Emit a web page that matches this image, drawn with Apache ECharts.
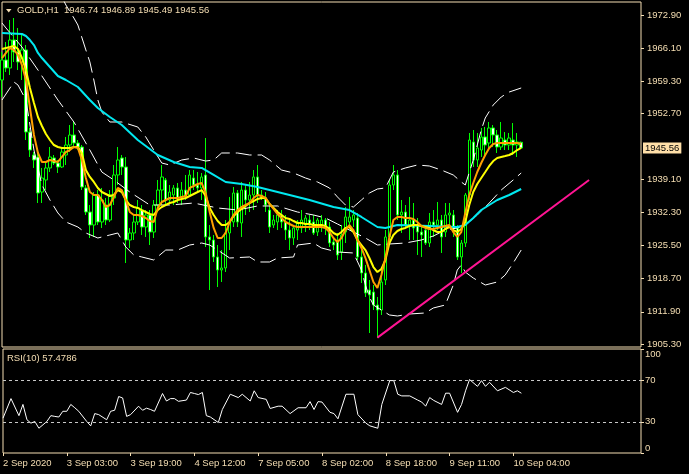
<!DOCTYPE html>
<html><head><meta charset="utf-8">
<script src="https://cdn.jsdelivr.net/npm/echarts@6/dist/echarts.min.js"></script>
<style>html,body{margin:0;padding:0;background:#000;}#c{width:689px;height:474px;}</style>
</head><body><div id="c"></div>
<script>
// ---- data ----
const opens = [1959.54,1963.65,1962.01,1967.76,1965.29,1963.24,1965.71,1948.85,1944.13,1943.72,
1936.52,1938.99,1941.46,1943.51,1942.48,1941.66,1944.13,1946.18,1948.24,1946.59,
1945.77,1937.35,1932.41,1929.74,1935.91,1930.36,1933.85,1930.77,1935.29,1940.02,
1943.51,1941.66,1926.66,1928.10,1930.36,1932.82,1929.33,1931.80,1928.30,1933.85,
1936.93,1938.99,1934.88,1935.91,1937.35,1935.29,1936.93,1935.91,1939.40,1937.96,
1937.35,1940.02,1927.28,1926.66,1923.17,1920.49,1920.91,1928.10,1930.36,1936.32,
1930.15,1936.93,1934.88,1935.91,1939.61,1935.91,1935.29,1932.82,1929.74,1930.36,
1931.80,1930.36,1928.71,1927.07,1928.71,1929.13,1929.74,1930.77,1930.36,1928.30,
1929.74,1930.77,1929.33,1926.25,1926.25,1924.19,1928.30,1930.36,1930.77,1931.18,
1923.17,1919.88,1916.38,1915.97,1913.30,1912.27,1918.44,1927.28,1937.96,1940.02,
1931.80,1932.41,1929.74,1930.77,1929.74,1928.30,1928.71,1926.04,1930.36,1929.74,
1930.77,1928.30,1931.80,1931.80,1929.13,1923.17,1926.04,1935.91,1946.80,1943.10,
1945.15,1947.83,1946.59,1949.68,1948.24,1945.77,1947.21,1946.18,1947.21,1946.18,
1946.74];
const highs = [1965.29,1967.35,1971.87,1972.28,1970.23,1969.20,1966.73,1949.68,1944.74,1945.57,
1941.46,1942.69,1945.77,1944.13,1943.10,1945.57,1947.83,1950.29,1950.91,1947.21,
1946.18,1937.96,1933.85,1936.52,1936.93,1937.35,1935.29,1936.93,1942.07,1945.77,
1944.13,1943.72,1929.13,1931.80,1934.88,1933.85,1932.82,1932.82,1934.88,1938.99,
1942.07,1939.40,1937.96,1937.96,1938.37,1938.58,1940.02,1941.04,1941.04,1940.63,
1940.43,1947.62,1929.74,1927.69,1925.63,1924.60,1930.77,1935.50,1937.55,1936.93,
1938.58,1937.96,1938.58,1941.04,1942.07,1936.93,1936.52,1934.26,1931.80,1932.82,
1932.82,1931.80,1930.77,1929.74,1930.77,1932.82,1931.80,1931.80,1931.80,1931.18,
1931.80,1931.18,1930.36,1927.07,1928.10,1929.74,1933.44,1935.50,1932.82,1932.21,
1924.60,1921.52,1918.44,1917.41,1914.95,1920.49,1928.71,1938.99,1942.07,1941.04,
1934.88,1933.85,1935.50,1934.26,1931.18,1929.33,1929.74,1932.21,1932.82,1934.47,
1931.80,1934.26,1934.26,1932.82,1929.74,1926.66,1936.32,1948.65,1949.26,1948.65,
1949.68,1949.88,1950.91,1950.29,1949.26,1950.91,1948.85,1948.65,1950.70,1948.65,
1946.89];
const lows = [1956.05,1961.18,1960.57,1963.24,1961.59,1959.54,1947.21,1943.72,1941.46,1934.26,
1934.26,1936.93,1940.63,1942.07,1940.43,1941.46,1942.07,1944.74,1945.77,1945.15,
1936.93,1931.80,1927.07,1927.28,1929.74,1929.13,1929.74,1930.36,1933.85,1937.96,
1940.02,1921.93,1925.02,1926.66,1929.74,1927.69,1927.28,1925.63,1927.07,1932.82,
1933.85,1933.85,1934.26,1933.85,1934.26,1933.85,1934.88,1935.50,1936.93,1936.52,
1934.88,1925.22,1916.38,1922.14,1917.00,1918.03,1920.08,1924.60,1929.33,1929.33,
1927.28,1931.80,1932.41,1932.82,1934.26,1934.88,1932.41,1928.10,1929.13,1928.71,
1929.13,1926.66,1924.60,1925.63,1926.66,1928.10,1928.30,1928.71,1927.69,1927.48,
1928.30,1927.69,1925.22,1924.60,1922.55,1922.55,1926.04,1929.33,1929.33,1922.55,
1917.82,1914.95,1907.55,1912.27,1906.52,1911.25,1917.41,1926.04,1936.93,1930.77,
1928.10,1929.33,1926.66,1926.66,1923.58,1923.17,1925.63,1925.22,1927.28,1928.71,
1923.99,1927.28,1929.13,1927.28,1922.55,1919.88,1925.22,1934.88,1941.66,1941.66,
1943.72,1944.13,1945.15,1945.77,1944.54,1945.15,1945.15,1945.15,1944.13,1943.72,
1945.49];
const closes = [1963.65,1962.01,1967.76,1965.29,1963.24,1965.71,1948.85,1945.15,1943.10,1936.32,
1939.40,1941.46,1943.72,1942.48,1941.66,1944.74,1946.18,1948.24,1946.59,1945.77,
1937.55,1932.41,1929.74,1935.91,1930.36,1934.88,1930.77,1935.91,1940.02,1943.10,
1941.66,1926.66,1928.10,1930.36,1933.24,1929.33,1931.80,1928.30,1933.85,1936.93,
1939.61,1934.88,1936.52,1937.35,1935.29,1936.93,1935.50,1940.02,1937.96,1937.35,
1939.61,1927.28,1926.66,1923.17,1920.49,1920.91,1928.10,1930.36,1936.32,1930.36,
1936.93,1934.88,1935.91,1939.61,1935.91,1935.29,1933.85,1929.33,1930.77,1931.80,
1930.36,1928.71,1927.07,1929.13,1930.36,1930.77,1931.18,1929.74,1928.10,1930.77,
1930.77,1929.13,1926.04,1925.63,1923.58,1927.69,1931.39,1931.39,1931.80,1923.17,
1919.88,1915.77,1915.36,1913.30,1912.27,1918.03,1927.28,1937.96,1940.02,1931.80,
1932.41,1929.74,1930.77,1929.13,1928.30,1927.69,1926.04,1930.36,1929.74,1930.77,
1927.28,1931.80,1932.21,1929.13,1923.17,1926.04,1935.91,1947.21,1943.10,1945.57,
1947.83,1946.18,1949.68,1948.24,1945.77,1947.62,1946.18,1947.62,1946.18,1946.80,
1945.56];
// orange moving average (one value per bar)
const maFast = [1964.06,1965.09,1966.12,1965.71,1964.68,1962.62,1959.54,1953.79,1948.24,1944.54,
1942.69,1942.69,1943.10,1942.89,1942.69,1943.72,1944.74,1945.15,1945.77,1945.57,
1943.10,1939.40,1936.52,1935.91,1935.91,1934.88,1933.44,1933.85,1935.50,1937.35,
1936.93,1934.88,1932.41,1931.80,1931.80,1931.59,1931.18,1930.56,1930.36,1933.24,
1934.47,1934.88,1935.29,1935.29,1935.29,1935.50,1935.70,1937.35,1937.76,1938.17,
1938.37,1936.32,1932.41,1929.13,1927.07,1927.07,1928.10,1930.36,1931.80,1932.82,
1933.44,1933.85,1934.26,1935.29,1935.91,1935.70,1935.29,1934.06,1933.03,1932.00,
1931.18,1930.36,1929.95,1929.54,1929.33,1929.33,1929.33,1929.33,1929.33,1929.33,
1929.33,1929.13,1928.30,1927.07,1926.25,1927.07,1928.71,1929.74,1928.71,1926.66,
1925.02,1922.96,1920.49,1918.03,1916.80,1919.47,1922.96,1927.28,1930.77,1931.39,
1931.39,1931.18,1931.18,1930.98,1930.36,1929.54,1929.13,1928.92,1928.92,1929.13,
1929.33,1929.54,1929.74,1928.30,1927.28,1928.30,1932.21,1935.91,1938.37,1940.63,
1942.48,1944.13,1945.57,1946.39,1946.59,1946.59,1946.59,1946.59,1946.59,1946.59,
1946.39];
// yellow moving average (one value per bar)
const maMid = [1965.91,1966.12,1966.32,1966.53,1965.91,1964.06,1961.59,1957.90,1954.81,1951.94,
1950.09,1948.44,1947.21,1946.18,1945.77,1945.57,1945.57,1945.57,1945.77,1945.77,
1944.54,1941.04,1939.61,1938.58,1937.35,1936.52,1936.11,1935.70,1935.91,1936.93,
1936.52,1934.88,1933.85,1933.44,1933.24,1932.82,1932.41,1932.00,1931.80,1932.82,
1933.44,1933.85,1934.26,1934.47,1934.88,1935.09,1935.29,1935.70,1936.11,1936.52,
1936.93,1935.70,1933.24,1931.80,1930.56,1929.74,1929.74,1930.36,1931.59,1932.41,
1933.03,1933.65,1934.26,1934.67,1935.09,1935.29,1935.29,1934.06,1933.24,1932.41,
1931.80,1931.18,1930.98,1930.56,1930.15,1930.15,1929.95,1929.95,1929.74,1929.74,
1929.74,1929.54,1928.92,1928.10,1927.69,1928.30,1929.13,1929.33,1928.30,1926.66,
1925.63,1924.60,1922.96,1921.11,1920.08,1920.70,1922.55,1926.04,1927.69,1928.51,
1928.92,1929.13,1929.54,1929.74,1929.74,1929.54,1929.33,1929.13,1928.71,1928.30,
1928.30,1928.92,1929.33,1928.71,1928.30,1928.92,1930.36,1933.85,1936.52,1938.17,
1939.40,1940.63,1941.87,1942.89,1943.51,1943.72,1943.92,1944.13,1944.54,1945.15,
1945.57];
// cyan slow moving average, read at [bar, price]
const maSlow = [[0,1969.20],[5,1968.99],[6,1968.58],[7,1967.76],[8,1966.73],[9,1965.09],[10,1964.06],[12,1962.21],
[14,1960.36],[16,1959.54],[19,1958.10],[22,1955.43],[24,1953.79],[27,1951.94],[30,1950.29],[34,1947.21],
[39,1944.13],[43,1942.69],[47,1941.66],[50,1941.46],[53,1940.02],[56,1938.58],[60,1938.17],[64,1937.55],
[70,1936.32],[77,1934.88],[83,1933.44],[87,1932.82],[90,1931.39],[92,1930.36],[94,1929.33],[96,1929.13],
[99,1929.74],[107,1929.54],[114,1929.33],[116,1929.74],[118,1931.18],[120,1932.82],[122,1933.85],
[124,1934.88],[127,1935.91],[130,1937.14]];
// Bollinger bands (white dashed), read at [bar, price]
const bbUpper = [[15,1976.60],[16,1974.95],[18,1972.28],[19,1970.84],[21,1965.71],[22,1963.24],[23,1959.54],
[24,1955.43],[25,1952.96],[27,1950.91],[30,1950.91],[34,1949.88],[36,1947.83],[38,1945.15],[40,1942.48],
[42,1942.07],[45,1943.10],[48,1943.51],[51,1942.89],[53,1943.10],[55,1944.54],[59,1944.54],[62,1944.13],
[65,1944.13],[67,1943.10],[70,1941.04],[73,1940.43],[76,1939.40],[79,1938.58],[82,1937.35],[84,1935.50],
[86,1933.85],[88,1933.44],[90,1934.88],[92,1936.32],[94,1937.14],[96,1937.35],[98,1940.63],[101,1941.46],
[104,1942.07],[107,1941.87],[110,1941.04],[113,1940.02],[115,1938.58],[116,1937.96],[118,1943.10],
[120,1949.26],[121,1951.73],[123,1954.40],[125,1956.05],[127,1957.07],[130,1957.90]];
const bbMiddle = [[0,1971.25],[1,1970.23],[5,1966.32],[9,1961.59],[14,1955.43],[18,1950.91],[22,1945.15],
[25,1940.63],[28,1938.99],[32,1936.52],[37,1933.85],[42,1933.85],[48,1934.26],[54,1933.24],[59,1932.82],
[64,1933.65],[69,1933.65],[74,1932.41],[78,1931.80],[81,1931.18],[84,1929.95],[88,1928.30],[91,1927.07],
[94,1925.63],[97,1925.84],[101,1926.04],[105,1926.66],[108,1927.48],[111,1928.71],[114,1929.13],
[116,1929.74],[119,1931.80],[122,1934.26],[125,1936.93],[128,1938.99],[130,1940.43]];
const bbLower = [[0,1955.43],[3,1959.13],[4,1958.51],[6,1955.43],[8,1945.15],[10,1937.96],[12,1934.88],
[14,1932.21],[16,1930.36],[19,1929.33],[21,1928.10],[24,1927.07],[27,1927.69],[29,1928.10],[31,1925.22],
[33,1923.58],[35,1923.17],[38,1922.55],[41,1924.60],[44,1924.60],[47,1925.63],[50,1926.04],[52,1925.63],
[54,1924.60],[57,1922.96],[62,1923.17],[64,1922.14],[67,1922.14],[69,1922.96],[73,1923.17],[74,1925.63],
[78,1926.04],[80,1925.02],[84,1924.19],[88,1923.99],[90,1920.49],[91,1917.41],[92,1914.95],[93,1913.30],
[95,1912.27],[97,1911.25],[99,1911.04],[102,1911.45],[106,1911.66],[108,1912.69],[111,1913.30],
[113,1917.41],[114,1920.49],[115,1921.52],[116,1920.08],[118,1918.85],[121,1917.41],[124,1918.03],
[126,1919.47],[128,1921.93],[130,1924.60]];
// RSI(10), read at [bar, value]
const rsi = [[0,33.5],[2,52.3],[4,35.9],[5,46.7],[6,32.0],[7,28.7],[8,30.3],[9,23.8],[11,30.3],[12,35.9],
[13,35.2],[14,34.6],[15,40.1],[16,40.1],[17,46.7],[18,43.5],[19,40.1],[21,30.3],[22,26.1],[23,37.9],
[24,36.9],[26,32.0],[27,40.1],[28,41.1],[29,54.3],[30,52.9],[31,35.2],[32,36.9],[34,45.0],[35,41.1],
[36,43.1],[37,41.8],[38,40.1],[40,57.2],[41,50.0],[42,52.3],[43,52.3],[44,49.7],[46,50.9],[47,58.2],
[48,57.2],[49,56.2],[50,58.2],[51,35.9],[52,34.6],[54,29.3],[55,41.8],[57,56.5],[59,53.3],[60,56.5],
[62,50.0],[63,59.8],[64,53.3],[66,51.6],[67,42.8],[69,45.0],[70,45.0],[72,37.9],[74,43.5],[76,43.5],
[77,49.4],[78,41.8],[79,49.4],[80,49.0],[82,39.1],[83,37.9],[84,32.9],[86,56.5],[87,56.5],[88,56.5],
[89,36.9],[91,28.7],[92,26.1],[94,23.8],[95,46.7],[97,69.6],[98,69.6],[99,56.5],[100,54.9],[102,54.9],
[104,50.9],[105,49.0],[106,45.0],[107,53.3],[108,50.6],[110,46.7],[111,57.5],[112,57.5],[114,39.1],
[115,46.7],[116,59.8],[117,70.6],[119,64.1],[120,69.6],[121,64.1],[122,68.0],[124,59.8],[126,63.1],
[128,58.2],[129,59.8],[130,57.48]];
const trendLine = [[94,1906.60],[147,1939.00]];
const priceTicks = [1905.30,1911.90,1918.70,1925.50,1932.30,1939.10,1952.70,1959.30,1966.10,1972.90];
const rsiTicks = [0,30,70,100];
const rsiLevels = [70,30];
const timeLabels = ['2 Sep 2020','3 Sep 03:00','3 Sep 19:00','4 Sep 12:00','7 Sep 05:00','8 Sep 02:00','8 Sep 18:00','9 Sep 11:00','10 Sep 04:00'];
const timeLabelStep = 16;
const lastPrice = 1945.56;
const headerText = 'GOLD,H1  1946.74 1946.89 1945.49 1945.56';
const rsiText = 'RSI(10) 57.4786';
const slotCount = 161;

// ---- chart ----
const FG = '#f5deb3';
const FONT = 'Liberation Sans';
const FS = 9.5;
const cats = Array.from({length: slotCount}, (_, i) => String(i));
const candles = opens.map((o, i) => [o, closes[i], lows[i], highs[i]]);
const isLabelIdx = (idx) => idx % timeLabelStep === 0 && (idx / timeLabelStep) < timeLabels.length;

const chart = echarts.init(document.getElementById('c'), null, {renderer: 'canvas'});
chart.setOption({
  animation: false,
  backgroundColor: '#000',
  title: [
    {text: headerText, left: 17, top: 5, padding: 0, textStyle: {color: FG, fontSize: FS, fontWeight: 'normal', fontFamily: FONT}},
    {text: rsiText, left: 7, top: 353, padding: 0, textStyle: {color: FG, fontSize: FS, fontWeight: 'normal', fontFamily: FONT}}
  ],
  graphic: [{type: 'polygon', shape: {points: [[6, 9], [11.5, 9], [8.75, 12.5]]}, style: {fill: FG}}],
  grid: [
    {left: 2, top: 2, width: 639, height: 345, show: true, borderColor: FG, borderWidth: 1, backgroundColor: 'transparent'},
    {left: 2, top: 349, width: 639, height: 104, show: true, borderColor: FG, borderWidth: 1, backgroundColor: 'transparent'}
  ],
  xAxis: [
    {type: 'category', gridIndex: 0, data: cats, boundaryGap: false, axisLine: {show: false}, axisTick: {show: false}, axisLabel: {show: false}, splitLine: {show: false}},
    {type: 'category', gridIndex: 1, data: cats, boundaryGap: false, position: 'bottom', axisLine: {show: false},
      axisTick: {show: true, length: 3, interval: (idx) => isLabelIdx(idx), lineStyle: {color: FG}},
      axisLabel: {show: true, interval: (idx) => isLabelIdx(idx), formatter: (v, idx) => timeLabels[idx / timeLabelStep] || '',
        align: 'left', margin: 5, color: FG, fontSize: FS, fontFamily: FONT},
      splitLine: {show: false}}
  ],
  yAxis: [
    {type: 'value', gridIndex: 0, position: 'right', min: 1904.67, max: 1975.57, axisLine: {show: false}, splitLine: {show: false},
      axisTick: {show: true, length: 3, customValues: priceTicks, lineStyle: {color: FG}},
      axisLabel: {customValues: priceTicks, formatter: (v) => v.toFixed(2), color: FG, fontSize: FS, fontFamily: FONT, margin: 6}},
    {type: 'value', gridIndex: 1, position: 'right', min: 0, max: 100, axisLine: {show: false}, splitLine: {show: false},
      axisTick: {show: true, length: 3, customValues: rsiTicks, lineStyle: {color: FG}},
      axisLabel: {customValues: rsiTicks, color: FG, fontSize: FS, fontFamily: FONT, margin: 4,
        verticalAlignMinLabel: 'bottom', verticalAlignMaxLabel: 'top'}}
  ],
  series: [
    {type: 'candlestick', xAxisIndex: 0, yAxisIndex: 0, data: candles, barWidth: 3,
      itemStyle: {color: '#000', color0: '#fff', borderColor: '#00ff00', borderColor0: '#00ff00', borderColorDoji: '#00ff00', borderWidth: 1},
      markLine: {silent: true, symbol: ['none', 'none'], lineStyle: {color: 'rgba(0,0,0,0)', width: 1, type: 'solid'},
        label: {show: true, position: 'end', distance: 2, formatter: lastPrice.toFixed(2), backgroundColor: '#ffdfa8', color: '#000',
          padding: [1, 2, 0, 2], fontSize: FS, fontFamily: FONT, opacity: 1},
        data: [{yAxis: lastPrice}]}},
    {type: 'line', name: 'bbUpper', data: bbUpper, showSymbol: false, lineStyle: {color: '#fff', width: 1, type: [16, 6]}},
    {type: 'line', name: 'bbMiddle', data: bbMiddle, showSymbol: false, lineStyle: {color: '#fff', width: 1, type: [16, 6]}},
    {type: 'line', name: 'bbLower', data: bbLower, showSymbol: false, lineStyle: {color: '#fff', width: 1, type: [16, 6]}},
    {type: 'line', name: 'maSlow', data: maSlow, showSymbol: false, lineStyle: {color: '#00e8f0', width: 2}},
    {type: 'line', name: 'maMid', data: maMid, showSymbol: false, lineStyle: {color: '#ffff00', width: 2}},
    {type: 'line', name: 'maFast', data: maFast, showSymbol: false, lineStyle: {color: '#ffa000', width: 2}},
    {type: 'line', name: 'trend', data: trendLine, showSymbol: false, lineStyle: {color: '#ff1493', width: 2}},
    {type: 'line', name: 'rsi', xAxisIndex: 1, yAxisIndex: 1, data: rsi, showSymbol: false, lineStyle: {color: '#fff', width: 1},
      markLine: {silent: true, symbol: ['none', 'none'], label: {show: false}, lineStyle: {color: '#c8c8c8', width: 1, type: [3, 3]},
        data: rsiLevels.map(v => ({yAxis: v}))}}
  ]
});
</script></body></html>
